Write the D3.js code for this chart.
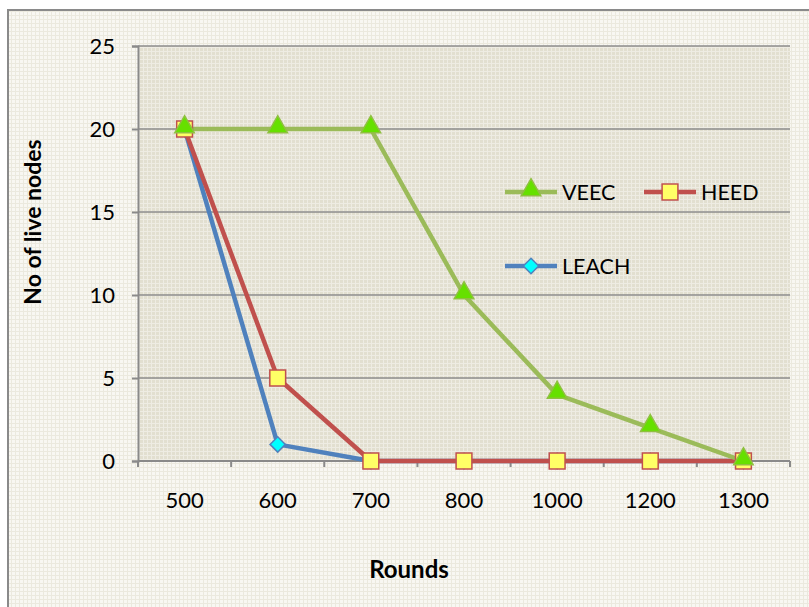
<!DOCTYPE html>
<html>
<head>
<meta charset="utf-8">
<script src="https://cdn.jsdelivr.net/npm/d3@7"></script>
<style>
  body { margin: 0; background: #fff; }
  svg { display: block; font-family: Lato, "Open Sans", sans-serif; }
</style>
</head>
<body>
<div id="chart"></div>
<script>
var rounds = ["500", "600", "700", "800", "1000", "1200", "1300"];
var veec  = [20, 20, 20, 10, 4, 2, 0];
var heed  = [20, 5, 0, 0, 0, 0, 0];
var leach = [20, 1, 0, 0, 0, 0, 0];
var yTicks = [0, 5, 10, 15, 20, 25];

var width = 809, height = 607;
var plot = {left: 138, right: 790, top: 46, bottom: 461};

var svg = d3.select("#chart").append("svg")
  .attr("width", width)
  .attr("height", height);

var defs = svg.append("defs");

// textured fills like the office chart
var outerPat = defs.append("pattern")
  .attr("id", "outerPat").attr("patternUnits", "userSpaceOnUse")
  .attr("width", 4).attr("height", 4);
outerPat.append("rect").attr("width", 4).attr("height", 4).attr("fill", "#EBE9DE");
outerPat.append("rect").attr("width", 3).attr("height", 3).attr("fill", "#F8F7F2");

var innerPat = defs.append("pattern")
  .attr("id", "innerPat").attr("patternUnits", "userSpaceOnUse")
  .attr("width", 4).attr("height", 4);
innerPat.append("rect").attr("width", 4).attr("height", 4).attr("fill", "#EEECE3");
innerPat.append("rect").attr("width", 3).attr("height", 3).attr("fill", "#E2DFD0");

// chart area with border
svg.append("rect")
  .attr("x", 8).attr("y", 10)
  .attr("width", width + 10).attr("height", height + 10)
  .attr("fill", "url(#outerPat)")
  .attr("stroke", "#8A8A8A")
  .attr("stroke-width", 2);

svg.append("rect")
  .attr("x", plot.left).attr("y", plot.top)
  .attr("width", plot.right - plot.left).attr("height", plot.bottom - plot.top)
  .attr("fill", "url(#innerPat)");

var xScale = d3.scaleBand()
  .domain(rounds)
  .range([plot.left, plot.right]);

var yScale = d3.scaleLinear()
  .domain([0, 25])
  .range([plot.bottom, plot.top]);

function cx(i) { return xScale(rounds[i]) + xScale.bandwidth() / 2; }

// gridlines
svg.append("g").selectAll("line")
  .data(yTicks.filter(function(d){ return d > 0; }))
  .enter().append("line")
    .attr("x1", plot.left).attr("x2", plot.right)
    .attr("y1", function(d){ return yScale(d); })
    .attr("y2", function(d){ return yScale(d); })
    .attr("stroke", "#8C8C8C")
    .attr("stroke-width", 1.5);

// y axis
var yAxis = svg.append("g")
  .attr("transform", "translate(" + plot.left + ",0)")
  .call(d3.axisLeft(yScale).tickValues(yTicks).tickSize(6).tickPadding(17));
yAxis.select(".domain").attr("stroke", "#8A8A8A").attr("stroke-width", 2);
yAxis.selectAll(".tick line").attr("stroke", "#8A8A8A").attr("stroke-width", 2);
yAxis.selectAll("text")
  .attr("fill", "#000")
  .style("font-size", "22px")
  .style("font-family", "Lato, sans-serif");

// x axis: ticks between categories
var xAxis = svg.append("g")
  .attr("transform", "translate(0," + plot.bottom + ")");
xAxis.append("line")
  .attr("x1", plot.left).attr("x2", plot.right)
  .attr("stroke", "#8A8A8A").attr("stroke-width", 2);
xAxis.selectAll(".xt")
  .data(rounds.concat(["end"]))
  .enter().append("line")
    .attr("class", "xt")
    .attr("x1", function(d, i){ return i < rounds.length ? xScale(d) : plot.right; })
    .attr("x2", function(d, i){ return i < rounds.length ? xScale(d) : plot.right; })
    .attr("y1", 0).attr("y2", 6)
    .attr("stroke", "#8A8A8A").attr("stroke-width", 2);
xAxis.selectAll(".xl")
  .data(rounds)
  .enter().append("text")
    .attr("class", "xl")
    .attr("x", function(d, i){ return cx(i); })
    .attr("y", 47)
    .attr("text-anchor", "middle")
    .style("font-size", "22px")
    .text(function(d){ return d; });

// axis titles
svg.append("text")
  .attr("transform", "translate(41,222) rotate(-90)")
  .attr("text-anchor", "middle")
  .style("font-size", "23px")
  .style("font-weight", "bold")
  .text("No of live nodes");

svg.append("text")
  .attr("x", 409).attr("y", 578)
  .attr("text-anchor", "middle")
  .style("font-size", "24px")
  .style("font-weight", "bold")
  .text("Rounds");

var series = [
  {name: "LEACH", values: leach, line: "#4F81BD", fill: "#00FFFF", stroke: "#4F81BD", symbol: d3.symbolDiamond2, size: 150},
  {name: "HEED",  values: heed,  line: "#C0504D", fill: "#FFFF66", stroke: "#C0504D", symbol: d3.symbolSquare, size: 250},
  {name: "VEEC",  values: veec,  line: "#9BBB59", fill: "#66E000", stroke: "#8FC040", symbol: d3.symbolTriangle, size: 165}
];

var line = d3.line()
  .x(function(d, i){ return cx(i); })
  .y(function(d){ return yScale(d); });

series.forEach(function(s){
  svg.append("path")
    .datum(s.values)
    .attr("d", line)
    .attr("fill", "none")
    .attr("stroke", s.line)
    .attr("stroke-width", 4.5)
    .attr("stroke-linejoin", "round");
});

series.forEach(function(s){
  var dy = s.symbol === d3.symbolTriangle ? -2 : 0;
  svg.append("g").selectAll("path")
    .data(s.values)
    .enter().append("path")
      .attr("d", d3.symbol().type(s.symbol).size(s.size))
      .attr("transform", function(d, i){ return "translate(" + cx(i) + "," + (yScale(d) + dy) + ")"; })
      .attr("fill", s.fill)
      .attr("stroke", s.stroke)
      .attr("stroke-width", 1.5);
});

// legend
var legendItems = [
  {s: series[2], x: 505, y: 192},
  {s: series[1], x: 644, y: 192},
  {s: series[0], x: 505, y: 266}
];
var lg = svg.append("g").selectAll("g")
  .data(legendItems)
  .enter().append("g")
    .attr("transform", function(d){ return "translate(" + d.x + "," + d.y + ")"; });
lg.append("line")
  .attr("x1", 0).attr("x2", 52)
  .attr("stroke", function(d){ return d.s.line; })
  .attr("stroke-width", 4.5);
lg.append("path")
  .attr("d", function(d){ return d3.symbol().type(d.s.symbol).size(d.s.size)(); })
  .attr("transform", function(d){ return "translate(26," + (d.s.symbol === d3.symbolTriangle ? -2 : 0) + ")"; })
  .attr("fill", function(d){ return d.s.fill; })
  .attr("stroke", function(d){ return d.s.stroke; })
  .attr("stroke-width", 1.5);
lg.append("text")
  .attr("x", 57).attr("y", 8)
  .style("font-size", "21.5px")
  .text(function(d){ return d.s.name; });
</script>
</body>
</html>
